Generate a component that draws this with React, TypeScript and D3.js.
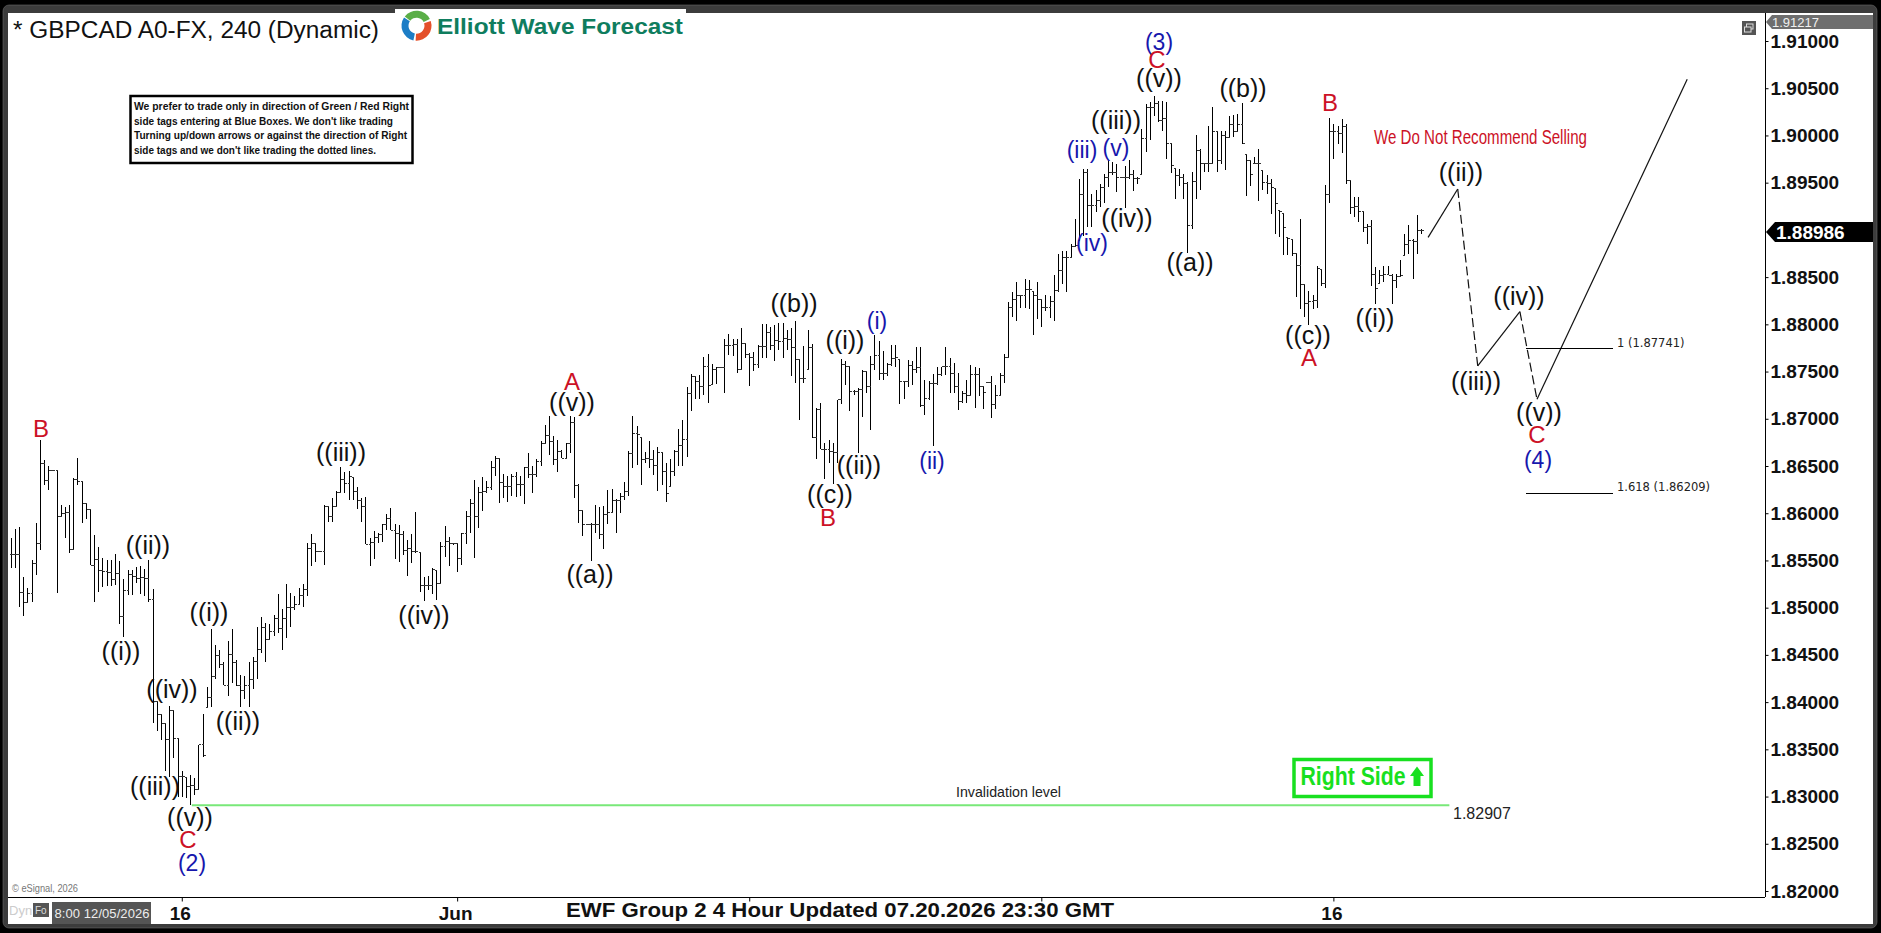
import { useEffect, useRef } from "react";
import * as d3 from "d3";

// GBPCAD 4h bars, in units of 0.0001
const highs = [
  18574,18583,18585,18532,18521,18551,18590,18678,18656,18650,
  18645,18645,18609,18607,18609,18637,18658,18634,18611,18604,
  18577,18564,18553,18551,18551,18557,18549,18530,18540,18540,
  18543,18544,18541,18551,18520,18401,18387,18378,18396,18391,
  18362,18327,18320,18323,18320,18355,18387,18416,18477,18461,
  18455,18443,18465,18477,18445,18429,18428,18442,18448,18480,
  18490,18484,18483,18492,18515,18499,18525,18516,18512,18521,
  18525,18568,18578,18569,18560,18609,18607,18616,18624,18649,
  18644,18645,18638,18628,18616,18617,18574,18581,18579,18589,
  18599,18606,18589,18588,18581,18572,18578,18601,18558,18533,
  18534,18542,18539,18570,18586,18575,18569,18568,18579,18602,
  18615,18635,18628,18638,18634,18655,18661,18658,18642,18639,
  18642,18644,18639,18649,18664,18650,18657,18677,18693,18703,
  18682,18678,18667,18674,18703,18702,18631,18603,18588,18590,
  18609,18607,18608,18625,18626,18615,18621,18633,18666,18703,
  18692,18680,18665,18676,18667,18670,18665,18653,18657,18667,
  18689,18699,18734,18747,18745,18746,18765,18769,18758,18755,
  18754,18784,18790,18784,18785,18796,18780,18770,18771,18778,
  18800,18800,18797,18799,18801,18801,18794,18796,18804,18763,
  18777,18794,18779,18711,18717,18674,18678,18674,18720,18763,
  18761,18755,18731,18733,18752,18750,18766,18789,18782,18772,
  18759,18778,18778,18763,18740,18762,18761,18776,18776,18741,
  18740,18747,18755,18755,18776,18764,18759,18748,18729,18741,
  18757,18755,18754,18734,18738,18745,18736,18749,18769,18824,
  18834,18845,18831,18848,18847,18835,18845,18826,18831,18830,
  18852,18875,18878,18878,18885,18912,18954,18965,18964,18938,
  18942,18949,18959,18974,18972,18970,18956,18968,18974,18963,
  18956,19007,19033,19035,19042,19037,19037,19035,18991,18965,
  18964,18959,18951,18961,19000,18986,18970,19010,19030,19005,
  19005,19005,19021,19022,19023,19034,18980,18974,18977,18986,
  18963,18958,18954,18944,18921,18917,18892,18890,18876,18912,
  18843,18835,18831,18862,18858,18948,19019,19012,19010,19017,
  19012,18952,18935,18935,18920,18906,18910,18861,18858,18862,
  18862,18853,18853,18868,18896,18905,18890,18916,18901,
];
const lows = [
  18542,18542,18501,18491,18505,18506,18535,18561,18630,18625,
  18645,18516,18596,18574,18558,18561,18630,18590,18594,18545,
  18506,18517,18522,18523,18523,18524,18483,18469,18513,18513,
  18526,18514,18512,18506,18378,18369,18360,18327,18321,18341,
  18300,18300,18298,18291,18302,18307,18342,18394,18395,18425,
  18436,18418,18406,18420,18417,18395,18403,18395,18414,18425,
  18452,18442,18466,18470,18473,18455,18468,18480,18498,18503,
  18501,18512,18544,18548,18560,18545,18591,18591,18607,18621,
  18621,18614,18614,18604,18591,18567,18544,18552,18569,18570,
  18582,18582,18552,18548,18556,18534,18547,18558,18517,18507,
  18519,18514,18508,18526,18554,18544,18566,18538,18545,18567,
  18579,18553,18584,18602,18621,18625,18639,18611,18616,18612,
  18618,18617,18618,18610,18637,18621,18638,18650,18674,18662,
  18651,18644,18658,18657,18664,18616,18590,18576,18588,18549,
  18579,18573,18562,18589,18600,18579,18600,18614,18618,18648,
  18651,18630,18653,18648,18641,18624,18630,18612,18628,18639,
  18650,18650,18660,18708,18721,18721,18725,18717,18736,18737,
  18754,18727,18768,18766,18749,18752,18764,18735,18751,18754,
  18764,18764,18773,18761,18773,18764,18773,18745,18738,18699,
  18738,18752,18680,18657,18668,18636,18653,18631,18653,18716,
  18736,18708,18725,18664,18702,18727,18688,18752,18741,18741,
  18745,18756,18755,18716,18721,18734,18736,18748,18713,18704,
  18720,18671,18736,18745,18746,18727,18727,18709,18717,18717,
  18724,18711,18724,18710,18738,18701,18710,18725,18738,18764,
  18808,18804,18817,18817,18816,18789,18806,18797,18814,18807,
  18804,18834,18843,18834,18871,18882,18889,18894,18903,18903,
  18919,18924,18929,18945,18958,18940,18956,18923,18954,18941,
  18949,18959,18982,18995,19021,19014,19005,18975,18960,18933,
  18946,18933,18876,18901,18933,18942,18961,18961,18970,18961,
  18970,18963,18998,18998,19004,18991,18936,18947,18970,18931,
  18942,18938,18917,18896,18892,18873,18873,18872,18829,18816,
  18808,18799,18816,18817,18841,18839,18929,18975,18991,18981,
  18949,18917,18914,18908,18898,18885,18841,18822,18843,18845,
  18852,18822,18839,18850,18873,18875,18848,18875,18896,
];
const closes = [
  18556,18556,18516,18506,18515,18547,18568,18653,18635,18645,
  18645,18597,18600,18601,18562,18636,18634,18610,18604,18545,
  18551,18539,18538,18537,18530,18536,18491,18518,18535,18533,
  18531,18532,18531,18509,18401,18387,18377,18360,18391,18361,
  18321,18321,18311,18312,18308,18355,18344,18405,18427,18449,
  18440,18418,18450,18442,18418,18412,18418,18424,18443,18456,
  18479,18466,18475,18489,18478,18489,18500,18500,18503,18513,
  18519,18563,18568,18560,18560,18607,18597,18607,18622,18636,
  18631,18639,18623,18614,18607,18567,18569,18574,18578,18588,
  18594,18582,18579,18578,18561,18563,18559,18559,18523,18524,
  18524,18540,18526,18565,18570,18568,18568,18552,18579,18597,
  18610,18597,18622,18623,18627,18648,18658,18633,18628,18628,
  18639,18630,18630,18648,18641,18641,18655,18674,18682,18676,
  18657,18665,18658,18674,18696,18629,18603,18588,18588,18588,
  18588,18577,18599,18601,18614,18614,18618,18623,18663,18684,
  18683,18657,18658,18657,18651,18664,18644,18621,18644,18665,
  18672,18678,18727,18745,18740,18734,18755,18735,18752,18754,
  18754,18778,18778,18779,18752,18780,18768,18765,18757,18777,
  18777,18791,18778,18783,18782,18785,18784,18775,18763,18743,
  18743,18775,18680,18710,18668,18667,18665,18664,18720,18757,
  18755,18729,18729,18731,18750,18734,18758,18767,18748,18748,
  18757,18764,18765,18740,18740,18756,18752,18754,18714,18722,
  18737,18737,18747,18755,18755,18748,18734,18718,18727,18725,
  18747,18747,18734,18728,18738,18715,18725,18746,18765,18818,
  18826,18831,18831,18837,18837,18831,18826,18818,18818,18824,
  18836,18857,18871,18871,18882,18884,18938,18961,18926,18926,
  18931,18945,18956,18961,18961,18956,18956,18956,18959,18954,
  18954,18997,19030,19030,19034,19016,19018,18991,18968,18958,
  18956,18949,18905,18951,18984,18970,18970,18970,19004,18974,
  19000,18998,19012,19004,19012,18992,18974,18959,18970,18970,
  18950,18949,18945,18928,18919,18903,18891,18875,18862,18842,
  18822,18824,18825,18859,18843,18938,19004,19004,19002,19009,
  18952,18924,18925,18920,18903,18904,18853,18838,18852,18853,
  18852,18846,18851,18852,18885,18889,18888,18899,18899,
];

const priceTicks = [1.91,1.905,1.9,1.895,1.89,1.885,1.88,1.875,1.87,1.865,1.86,1.855,1.85,1.845,1.84,1.835,1.83,1.825,1.82];
const shownPriceTicks = priceTicks.filter((t) => t !== 1.89);
const timeTickBars = [41, 107, 177, 247, 317];
const timeTickLabels = ["16", "Jun", "", "", "16"];

// forecast path: bar position (past the last bar) and price
const pathBars = [339.7, 346.8, 351.6, 361.7, 365.8, 401.8];
const pathPrices = [1.88921, 1.89433, 1.87559, 1.88134, 1.87206, 1.90594];
const pathDashed = [false, true, false, true, false];

const invalidation = 1.82907;
const fibLevels = [1, 1.618];
const fibPrices = [1.87741, 1.86209];

const BLACK = "#111";
const RED = "#cc1126";
const BLUE = "#1717ad";
const waveLabels: [string, string, number, number][] = [
  ["B", RED, 41, 437], ["((iii))", BLACK, 341, 461], ["A", RED, 572, 390], ["((v))", BLACK, 572, 411],
  ["((ii))", BLACK, 148, 554], ["((i))", BLACK, 121, 660], ["((iv))", BLACK, 172, 698], ["((iii))", BLACK, 155, 795],
  ["((v))", BLACK, 190, 826], ["C", RED, 188, 848], ["(2)", BLUE, 192, 871], ["((i))", BLACK, 209, 621],
  ["((ii))", BLACK, 238, 730], ["((iv))", BLACK, 424, 624], ["((a))", BLACK, 590, 583], ["((b))", BLACK, 794, 312],
  ["((c))", BLACK, 830, 503], ["B", RED, 828, 526], ["((i))", BLACK, 845, 349], ["(i)", BLUE, 877, 329],
  ["((ii))", BLACK, 859, 474], ["(ii)", BLUE, 932, 469], ["(iii)", BLUE, 1082, 158], ["(v)", BLUE, 1116, 156],
  ["((iii))", BLACK, 1116, 129], ["(iv)", BLUE, 1092, 251], ["((iv))", BLACK, 1127, 227], ["(3)", BLUE, 1159, 50],
  ["C", RED, 1157, 68], ["((v))", BLACK, 1159, 87], ["((a))", BLACK, 1190, 271], ["((b))", BLACK, 1243, 97],
  ["((c))", BLACK, 1308, 344], ["A", RED, 1309, 366], ["B", RED, 1330, 111], ["((i))", BLACK, 1375, 327],
  ["((ii))", BLACK, 1461, 181], ["((iv))", BLACK, 1519, 305], ["((iii))", BLACK, 1476, 390], ["((v))", BLACK, 1539, 421],
  ["C", RED, 1537, 443], ["(4)", BLUE, 1538, 468],
];

const noteLines: [string, number][] = [
  ["We prefer to trade only in direction of Green / Red Right", 275],
  ["side tags entering at Blue Boxes. We don't like trading", 259],
  ["Turning up/down arrows or against the direction of Right", 273],
  ["side tags and we don't like trading the dotted lines.", 242],
];

const FONT = "'Liberation Sans', Arial, sans-serif";

export default function App() {
  const svgRef = useRef<SVGSVGElement>(null);

  useEffect(() => {
    if (!svgRef.current) return;
    document.body.style.margin = "0";
    const svg = d3.select(svgRef.current);
    svg.selectAll("*").remove();
    svg.attr("font-family", FONT);

    const x = d3.scaleLinear().domain([0, 338]).range([10.7, 1421]);
    const y = d3.scaleLinear().domain([1.82, 1.91]).range([891, 41]);
    const py = (v: number) => y(v / 10000);

    // window frame
    svg.append("rect").attr("width", 1881).attr("height", 933).attr("fill", "#000");
    svg.append("rect").attr("x", 3).attr("y", 5).attr("width", 1874).attr("height", 923).attr("rx", 6)
      .attr("fill", "#3c3c3c").attr("stroke", "#6a6a6a").attr("stroke-width", 0.6);
    svg.append("rect").attr("x", 8).attr("y", 13).attr("width", 1865).attr("height", 911).attr("fill", "#fff");

    // bars
    const bars = svg.append("g").attr("shape-rendering", "crispEdges");
    highs.forEach((h, i) => {
      const l = lows[i];
      const cx = Math.round(x(i)) + 0.5;
      const prev = i > 0 ? closes[i - 1] : closes[0];
      const o = Math.max(l, Math.min(h, prev));
      if (h !== l) bars.append("line").attr("x1", cx).attr("x2", cx).attr("y1", py(h)).attr("y2", py(l)).attr("stroke", "#000");
      bars.append("line").attr("x1", cx - 2).attr("x2", cx).attr("y1", py(o)).attr("y2", py(o)).attr("stroke", "#333");
      bars.append("line").attr("x1", cx).attr("x2", cx + 2).attr("y1", py(closes[i])).attr("y2", py(closes[i])).attr("stroke", "#333");
    });

    // invalidation line
    svg.append("line").attr("x1", x(43.4)).attr("x2", x(344.8)).attr("y1", y(invalidation)).attr("y2", y(invalidation))
      .attr("stroke", "#79e879").attr("stroke-width", 2);
    svg.append("text").attr("x", 956).attr("y", 797).attr("font-size", 15).attr("textLength", 105)
      .attr("lengthAdjust", "spacingAndGlyphs").attr("fill", "#222").text("Invalidation level");
    svg.append("text").attr("x", 1453).attr("y", 819).attr("font-size", 16).attr("fill", "#222").text(invalidation.toFixed(5));

    // forecast path
    const line = d3.line<number>().x((i) => x(pathBars[i])).y((i) => y(pathPrices[i]));
    pathDashed.forEach((dashed, i) => {
      svg.append("path").attr("d", line([i, i + 1])).attr("fill", "none").attr("stroke", "#111").attr("stroke-width", 1.2)
        .attr("stroke-dasharray", dashed ? "9,4" : null);
    });

    // fib targets
    fibLevels.forEach((lev, i) => {
      svg.append("line").attr("x1", x(363.2)).attr("x2", x(384)).attr("y1", y(fibPrices[i])).attr("y2", y(fibPrices[i]))
        .attr("stroke", "#000").attr("stroke-width", 1).attr("shape-rendering", "crispEdges");
      svg.append("text").attr("x", 1617).attr("y", y(fibPrices[i]) - 2).attr("font-family", "'DejaVu Sans'")
        .attr("font-size", 11.5).attr("fill", "#222").text(`${lev} (${fibPrices[i].toFixed(5)})`);
    });

    // wave labels
    waveLabels.forEach(([t, c, lx, ly]) => {
      svg.append("text").attr("x", lx).attr("y", ly).attr("text-anchor", "middle").attr("fill", c)
        .attr("font-size", c === BLACK ? 25 : c === RED ? 24 : 23).text(t);
    });

    svg.append("text").attr("x", 1374).attr("y", 144).attr("font-size", 20).attr("fill", RED)
      .attr("textLength", 213).attr("lengthAdjust", "spacingAndGlyphs").text("We Do Not Recommend Selling");

    // price axis
    svg.append("line").attr("x1", 1765.5).attr("x2", 1765.5).attr("y1", 13).attr("y2", 897).attr("stroke", "#000");
    const yAxis = svg.append("g").attr("transform", "translate(1765.5,0)")
      .call(d3.axisRight(y).tickValues(shownPriceTicks).tickSize(3).tickPadding(2).tickFormat((d) => d3.format(".5f")(d as number)));
    yAxis.select(".domain").remove();
    yAxis.selectAll("text").attr("font-family", FONT).attr("font-size", 19).attr("font-weight", "bold").attr("fill", "#111");

    // time axis
    svg.append("line").attr("x1", 8).attr("x2", 1765).attr("y1", 897.5).attr("y2", 897.5).attr("stroke", "#000");
    const xAxis = svg.append("g").attr("transform", "translate(0,897.5)")
      .call(d3.axisBottom(x).tickValues(timeTickBars).tickSize(4).tickPadding(5).tickFormat((_, i) => timeTickLabels[i]));
    xAxis.select(".domain").remove();
    xAxis.selectAll("text").attr("font-family", FONT).attr("font-size", 19).attr("font-weight", "bold").attr("fill", "#111").attr("dx", -2);

    svg.append("text").attr("x", 566).attr("y", 917).attr("font-size", 21).attr("font-weight", "bold").attr("fill", "#111")
      .attr("textLength", 548).attr("lengthAdjust", "spacingAndGlyphs").text("EWF Group 2 4 Hour Updated 07.20.2026 23:30 GMT");

    // header
    svg.append("text").attr("x", 13).attr("y", 38).attr("font-size", 23).attr("fill", "#111")
      .attr("textLength", 366).attr("lengthAdjust", "spacingAndGlyphs").text("* GBPCAD A0-FX, 240 (Dynamic)");

    // logo
    svg.append("rect").attr("x", 395).attr("y", 9).attr("width", 291).attr("height", 30).attr("fill", "#fff");
    const arc = d3.arc<number>().innerRadius(8).outerRadius(15);
    const logo = svg.append("g").attr("transform", "translate(416.5,25.7)");
    [["#5aae47", -0.9, 1.1], ["#e4502a", 1.25, 3.2], ["#1c7dc6", 3.35, 5.3]].forEach(([col, a0, a1]) => {
      logo.append("path").attr("fill", col as string)
        .attr("d", arc.startAngle(a0 as number).endAngle(a1 as number)(0) as string);
    });
    svg.append("text").attr("x", 437).attr("y", 34).attr("font-size", 22).attr("font-weight", "bold").attr("fill", "#0f7d5e")
      .attr("textLength", 246).attr("lengthAdjust", "spacingAndGlyphs").text("Elliott Wave Forecast");

    // note box
    svg.append("rect").attr("x", 130.5).attr("y", 96).attr("width", 282).attr("height", 67).attr("fill", "#fff")
      .attr("stroke", "#000").attr("stroke-width", 2.5);
    noteLines.forEach(([t, w], i) => {
      svg.append("text").attr("x", 134).attr("y", 110 + i * 14.7).attr("font-size", 11.5).attr("font-weight", "bold").attr("fill", "#111")
        .attr("textLength", w).attr("lengthAdjust", "spacingAndGlyphs").text(t);
    });

    // right side tag
    svg.append("rect").attr("x", 1294).attr("y", 759.5).attr("width", 137).attr("height", 37).attr("fill", "#fff")
      .attr("stroke", "#18e020").attr("stroke-width", 3.5);
    svg.append("text").attr("x", 1300.5).attr("y", 785).attr("font-size", 26).attr("font-weight", "bold").attr("fill", "#18e020")
      .attr("textLength", 105).attr("lengthAdjust", "spacingAndGlyphs").text("Right Side");
    svg.append("path").attr("d", "M1417,766.5L1424,776H1420.5V786H1413.5V776H1410Z").attr("fill", "#18e020");

    // price tags
    svg.append("path").attr("d", "M1766,22L1772,15H1873V29H1772Z").attr("fill", "#6e6e6e");
    svg.append("text").attr("x", 1772).attr("y", 27).attr("font-size", 13).attr("fill", "#f0f0f0").text("1.91217");
    svg.append("path").attr("d", "M1766,232L1775,222H1873V242H1775Z").attr("fill", "#000");
    svg.append("text").attr("x", 1776).attr("y", 238.5).attr("font-size", 19).attr("font-weight", "bold").attr("fill", "#fff").text("1.88986");

    // small window icon
    svg.append("rect").attr("x", 1742).attr("y", 21).attr("width", 14).attr("height", 14).attr("fill", "#555");
    svg.append("rect").attr("x", 1746.5).attr("y", 24).attr("width", 6.5).attr("height", 5).attr("fill", "none").attr("stroke", "#ddd");
    svg.append("rect").attr("x", 1744.5).attr("y", 27).attr("width", 6.5).attr("height", 5).attr("fill", "#555").attr("stroke", "#ddd");

    // bottom left bits
    svg.append("text").attr("x", 12).attr("y", 892).attr("font-size", 11).attr("fill", "#777")
      .attr("textLength", 66).attr("lengthAdjust", "spacingAndGlyphs").text("© eSignal, 2026");
    svg.append("text").attr("x", 9).attr("y", 915).attr("font-size", 13).attr("fill", "#ccc").text("Dyn");
    svg.append("rect").attr("x", 33).attr("y", 903).attr("width", 16).attr("height", 14).attr("fill", "#555");
    svg.append("text").attr("x", 35).attr("y", 914).attr("font-size", 10).attr("fill", "#ddd").text("Fo");
    svg.append("rect").attr("x", 52).attr("y", 902).attr("width", 99).attr("height", 22).attr("fill", "#555");
    svg.append("text").attr("x", 54.5).attr("y", 918).attr("font-size", 13).attr("fill", "#eee")
      .attr("textLength", 95).attr("lengthAdjust", "spacing").text("8:00 12/05/2026");
  }, []);

  return <svg ref={svgRef} width={1881} height={933} style={{ display: "block" }} />;
}
